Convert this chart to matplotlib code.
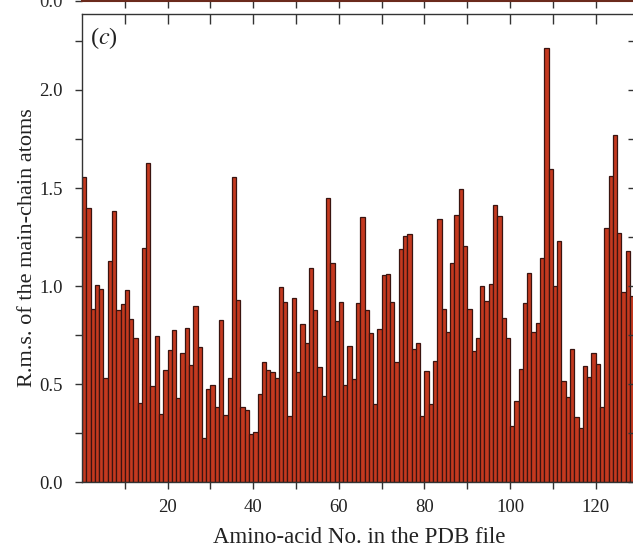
import matplotlib
matplotlib.use("Agg")
import matplotlib.pyplot as plt
import numpy as np

# R.m.s. deviation of main-chain atoms per residue
rms_values = [
    1.557, 1.396, 0.885, 1.005, 0.987, 0.530, 1.129, 1.381, 0.878, 0.910,
    0.980, 0.834, 0.734, 0.406, 1.192, 1.630, 0.493, 0.746, 0.346, 0.572,
    0.674, 0.776, 0.428, 0.657, 0.785, 0.598, 0.898, 0.688, 0.224, 0.474,
    0.496, 0.386, 0.827, 0.343, 0.530, 1.557, 0.929, 0.382, 0.369, 0.245,
    0.255, 0.448, 0.615, 0.572, 0.560, 0.530, 0.994, 0.921, 0.340, 0.938,
    0.560, 0.805, 0.712, 1.090, 0.878, 0.589, 0.440, 1.449, 1.119, 0.822,
    0.921, 0.496, 0.696, 0.527, 0.912, 1.350, 0.878, 0.763, 0.397, 0.780,
    1.056, 1.061, 0.921, 0.611, 1.187, 1.257, 1.264, 0.678, 0.712, 0.340,
    0.569, 0.397, 0.618, 1.340, 0.881, 0.764, 1.116, 1.362, 1.493, 1.206,
    0.881, 0.669, 0.734, 1.002, 0.926, 1.011, 1.416, 1.359, 0.836, 0.734,
    0.289, 0.416, 0.577, 0.912, 1.068, 0.768, 0.810, 1.145, 2.215, 1.596,
    1.002, 1.230, 0.518, 0.433, 0.678, 0.331, 0.279, 0.594, 0.538, 0.657,
    0.603, 0.382, 1.298, 1.563, 1.773, 1.272, 0.968, 1.177, 0.95,
]
residues = list(range(1, len(rms_values) + 1))
x_ticks = [20, 40, 60, 80, 100, 120]
x_minor = [10, 30, 50, 70, 90, 110]
y_ticks = [0.0, 0.5, 1.0, 1.5, 2.0]
y_tick_labels = ["0.0", "0.5", "1.0", "1.5", "2.0"]
y_minor = [0.25, 0.75, 1.25, 1.75, 2.25]

plt.rcParams["font.family"] = ["Liberation Serif", "DejaVu Serif"]
plt.rcParams["mathtext.fontset"] = "stix"

W, H = 633, 547
fig = plt.figure(figsize=(W / 100, H / 100), dpi=100)

# main panel (c)
left_px, right_px, top_px, bot_px = 82, 635.5, 13.5, 482.3
ax = fig.add_axes([left_px / W, 1 - bot_px / H, (right_px - left_px) / W, (bot_px - top_px) / H])

left_edges = [r - 1 for r in residues]
ax.bar(left_edges, rms_values, width=1.0, align="edge",
       color="#c4391f", edgecolor="#3a1410", linewidth=0.9)

ax.set_xlim(0, 129.3)
ax.set_ylim(0, 2.39)
ax.set_xticks(x_ticks)
ax.set_xticks(x_minor, minor=True)
ax.set_yticks(y_ticks)
ax.set_yticklabels(y_tick_labels)
ax.set_yticks(y_minor, minor=True)

for side in ["left", "bottom", "top", "right"]:
    ax.spines[side].set_linewidth(1.0)
    ax.spines[side].set_color("#333333")

ax.tick_params(axis="both", which="both", direction="out", length=5, width=1.0,
               colors="#333333", labelcolor="#222222", labelsize=13.5)
ax.tick_params(axis="x", which="both", top=True, pad=7)
ax.tick_params(axis="y", which="both", right=True, pad=9)
for t in ax.xaxis.get_major_ticks() + ax.xaxis.get_minor_ticks():
    t.tick2line.set_marker(matplotlib.lines.TICKDOWN)
    t.tick2line.set_markersize(7)
for t in ax.yaxis.get_major_ticks() + ax.yaxis.get_minor_ticks():
    t.tick2line.set_marker(matplotlib.lines.TICKLEFT)
    t.tick2line.set_markersize(6)

ax.set_xlabel("Amino-acid No. in the PDB file", fontsize=16.5, labelpad=8, color="#222222")
ax.set_ylabel("R.m.s. of the main-chain atoms", fontsize=16, labelpad=1.5, color="#222222")
ax.text(0.014, 0.976, r"($c$)", transform=ax.transAxes, fontsize=17.5,
        va="top", ha="left", color="#222222")

# remnant of the panel above
ax_up = fig.add_axes([left_px / W, 1 - 0.8 / H, (right_px - left_px) / W, 0.3])
ax_up.set_xlim(0, 129.3)
ax_up.set_ylim(0, 2.39)
ax_up.set_xticks(x_ticks)
ax_up.set_xticks(x_minor, minor=True)
ax_up.set_xticklabels([])
ax_up.set_yticks([0.0])
ax_up.set_yticklabels(["0.0"])
for side in ["left", "top", "right"]:
    ax_up.spines[side].set_visible(False)
ax_up.spines["bottom"].set_color("#6b2a1c")
ax_up.spines["bottom"].set_linewidth(1.5)
ax_up.tick_params(axis="both", which="both", direction="out", length=5, width=1.0,
                  colors="#333333", labelsize=13.5, pad=9)
ax_up.patch.set_visible(False)

fig.savefig("out.png", dpi=100)
